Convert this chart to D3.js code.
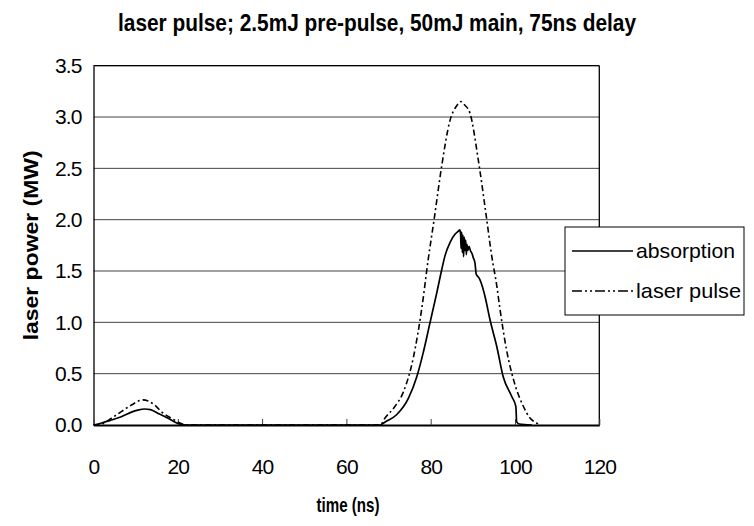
<!DOCTYPE html>
<html>
<head>
<meta charset="utf-8">
<script src="https://cdn.jsdelivr.net/npm/d3@7"></script>
<style>
  html, body { margin: 0; padding: 0; background: #fff; }
  svg { display: block; }
  text { font-family: "Liberation Sans", Arial, sans-serif; fill: #000; }
</style>
</head>
<body>
<svg id="chart" width="754" height="526"></svg>
<script>
// Laser pulse (pre-pulse + main pulse), time in ns, power in MW
const laserTime  = [0, 2, 4.2, 6.6, 9, 11.7, 14.5, 16.1, 18.5, 20.5, 22, 30, 40, 50, 60, 68,
                    69.2, 71.5, 73.5, 75.9, 77.9, 79.4, 80.8, 82.6, 84.6, 86, 87.2, 88, 89.3,
                    91.3, 93.1, 94.5, 95.7, 96.4, 98, 99.8, 102, 103.5, 105.1, 106];
const laserPower = [0, 0.01, 0.065, 0.13, 0.195, 0.245, 0.195, 0.13, 0.065, 0.02, 0, 0, 0, 0, 0, 0,
                    0.07, 0.18, 0.32, 0.66, 1.14, 1.61, 2.0, 2.52, 2.97, 3.1, 3.15, 3.12, 3.04,
                    2.58, 2.06, 1.64, 1.35, 1.14, 0.73, 0.42, 0.18, 0.07, 0.02, 0];

// Absorbed power, time in ns, power in MW
const absTime  = [0, 1.9, 4, 6.6, 9, 10.5, 12.1, 13.5, 15.5, 17.7, 20, 22, 30, 40, 50, 60, 68,
                  69.2, 71.9, 74.7, 76.7, 78.2, 79.8, 81.4, 82.6, 83.4, 84.6, 85.8, 86.6, 86.9,
                  87.1, 87.2, 87.35, 87.5, 87.65, 87.8, 87.95, 88.1, 88.3, 88.45, 88.6, 88.8,
                  89.1, 89.4, 89.8, 90.1, 90.5, 90.8, 91.5, 92, 92.9, 94.1, 95.7, 97.2, 99.2,
                  100.2, 100.4, 101, 104];
const absPower = [0, 0.02, 0.045, 0.08, 0.125, 0.145, 0.156, 0.15, 0.11, 0.065, 0.015, 0, 0, 0, 0, 0, 0,
                  0.03, 0.10, 0.26, 0.47, 0.70, 0.99, 1.28, 1.51, 1.65, 1.78, 1.86, 1.89, 1.90,
                  1.86, 1.72, 1.88, 1.68, 1.85, 1.64, 1.83, 1.70, 1.80, 1.66, 1.76, 1.70,
                  1.74, 1.70, 1.67, 1.63, 1.58, 1.47, 1.43, 1.38, 1.25, 1.02, 0.76, 0.47, 0.28,
                  0.18, 0.03, 0.01, 0];

const xTicks = [0, 20, 40, 60, 80, 100, 120];
const yTicks = [0, 0.5, 1.0, 1.5, 2.0, 2.5, 3.0, 3.5];

const titleText  = "laser pulse; 2.5mJ pre-pulse, 50mJ main, 75ns delay";
const xLabelText = "time (ns)";
const yLabelText = "laser power (MW)";
const seriesNames = ["absorption", "laser pulse"];

const svg = d3.select("#chart");
const plot = { left: 93.5, right: 599.3, top: 65.7, bottom: 425 };

const x = d3.scaleLinear().domain([0, 120]).range([plot.left, plot.right]);
const y = d3.scaleLinear().domain([0, 3.5]).range([plot.bottom, plot.top]);

const dashDot = "10,3,2,3,2,3";
const FONT = "'Liberation Sans', Arial, sans-serif";

// horizontal grid lines
svg.append("g")
  .selectAll("line")
  .data(yTicks.slice(1))
  .join("line")
  .attr("x1", plot.left).attr("x2", plot.right)
  .attr("y1", d => y(d)).attr("y2", d => y(d))
  .attr("stroke", "#444").attr("stroke-width", 1);

// plot frame (right edge)
svg.append("line")
  .attr("x1", plot.right).attr("x2", plot.right)
  .attr("y1", plot.top).attr("y2", plot.bottom)
  .attr("stroke", "#000").attr("stroke-width", 1.3);

// y axis
const yAxis = d3.axisLeft(y).tickValues(yTicks).tickFormat(d3.format(".1f")).tickSize(0).tickPadding(12);
const gy = svg.append("g").attr("transform", `translate(${plot.left},0)`).call(yAxis);
gy.select(".domain").attr("stroke", "#000").attr("stroke-width", 1.3);
gy.selectAll("text")
  .attr("font-size", 21)
  .attr("letter-spacing", "-0.9px")
  .style("font-family", FONT);

// x axis: ticks point into the plot
const xAxis = d3.axisBottom(x).tickValues(xTicks).tickFormat(d3.format("d")).tickSizeInner(-6).tickSizeOuter(0).tickPadding(34);
const gx = svg.append("g").attr("transform", `translate(0,${plot.bottom})`).call(xAxis);
gx.select(".domain").attr("stroke", "#000").attr("stroke-width", 2.2);
gx.selectAll(".tick line").attr("stroke", "#444");
gx.selectAll("text")
  .attr("font-size", 21)
  .attr("letter-spacing", "-0.9px")
  .style("font-family", FONT);

// top border
svg.append("line")
  .attr("x1", plot.left).attr("x2", plot.right)
  .attr("y1", plot.top).attr("y2", plot.top)
  .attr("stroke", "#000").attr("stroke-width", 1.3);

// series lines
const smooth = d3.line().x(d => x(d[0])).y(d => y(d[1])).curve(d3.curveMonotoneX);

svg.append("path")
  .datum(d3.zip(laserTime, laserPower))
  .attr("d", smooth)
  .attr("fill", "none")
  .attr("stroke", "#000")
  .attr("stroke-width", 1.6)
  .attr("stroke-dasharray", "6,3,2,3");

svg.append("path")
  .datum(d3.zip(absTime, absPower))
  .attr("d", smooth)
  .attr("fill", "none")
  .attr("stroke", "#000")
  .attr("stroke-width", 1.7)
  .attr("stroke-linejoin", "round");

// title
svg.append("text")
  .attr("x", 377).attr("y", 31)
  .attr("text-anchor", "middle")
  .attr("font-size", 24)
  .attr("font-weight", "bold")
  .attr("textLength", 518)
  .attr("lengthAdjust", "spacingAndGlyphs")
  .text(titleText);

// axis titles
svg.append("text")
  .attr("x", 348).attr("y", 512)
  .attr("text-anchor", "middle")
  .attr("font-size", 21)
  .attr("font-weight", "bold")
  .attr("textLength", 63)
  .attr("lengthAdjust", "spacingAndGlyphs")
  .text(xLabelText);

svg.append("text")
  .attr("transform", `translate(38,${(plot.top + plot.bottom) / 2}) rotate(-90)`)
  .attr("text-anchor", "middle")
  .attr("font-size", 21)
  .attr("font-weight", "bold")
  .attr("textLength", 190)
  .attr("lengthAdjust", "spacingAndGlyphs")
  .text(yLabelText);

// legend
const legend = svg.append("g").attr("transform", "translate(565,227)");
legend.append("rect")
  .attr("width", 179).attr("height", 88)
  .attr("fill", "#fff").attr("stroke", "#000").attr("stroke-width", 1);

const legendRows = [
  { name: seriesNames[0], dash: null, yy: 24, len: 99 },
  { name: seriesNames[1], dash: dashDot, yy: 64, len: 105 }
];
legendRows.forEach(r => {
  legend.append("line")
    .attr("x1", 7).attr("x2", 68)
    .attr("y1", r.yy).attr("y2", r.yy)
    .attr("stroke", "#000").attr("stroke-width", 1.7)
    .attr("stroke-dasharray", r.dash);
  legend.append("text")
    .attr("x", 71).attr("y", r.yy + 7)
    .attr("font-size", 21)
    .attr("textLength", r.len)
    .attr("lengthAdjust", "spacingAndGlyphs")
    .text(r.name);
});
</script>
</body>
</html>
